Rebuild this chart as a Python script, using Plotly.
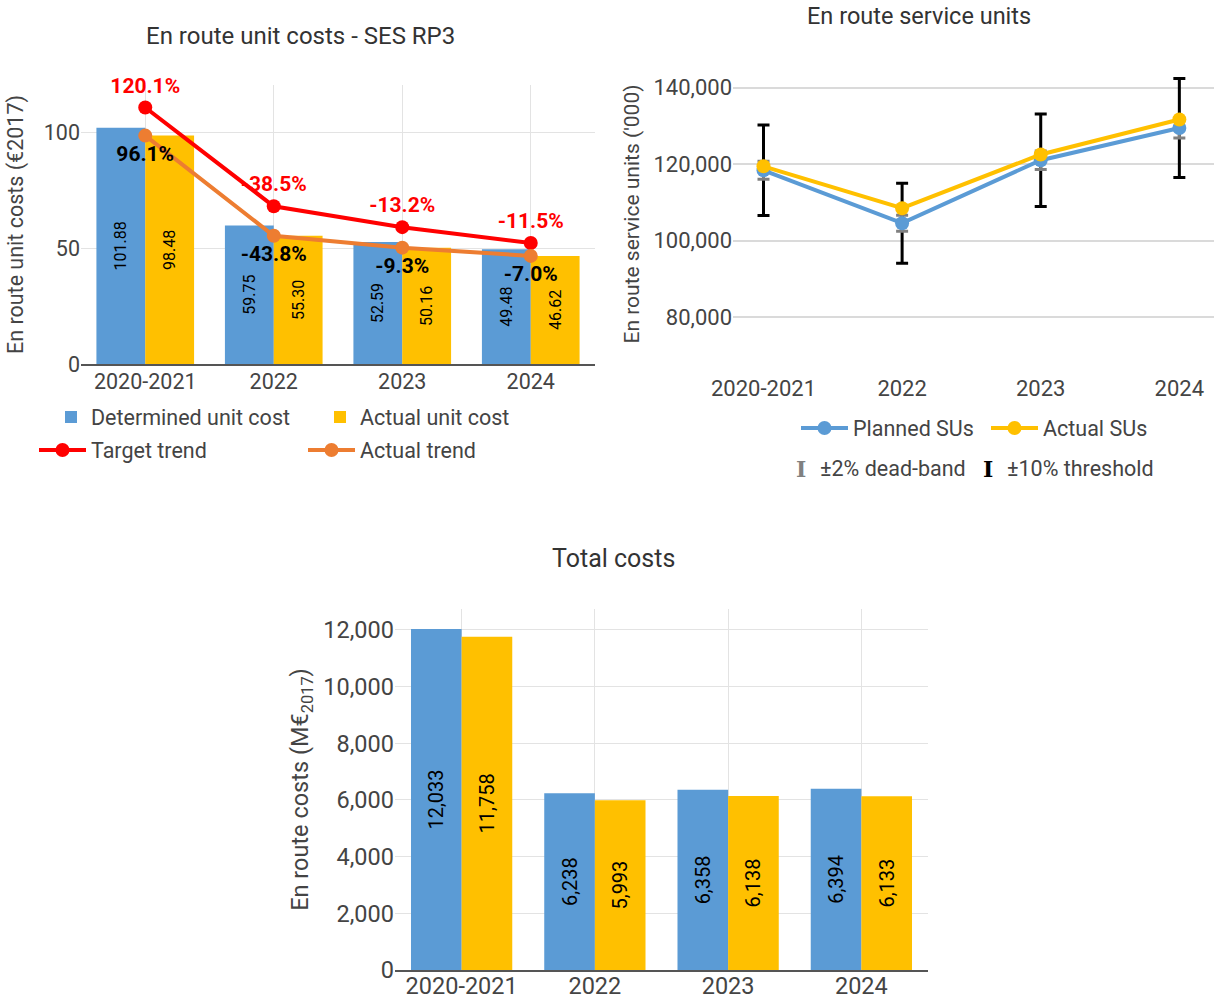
import plotly.graph_objects as go

W, H = 1214, 999

periods = ["2020-2021", "2022", "2023", "2024"]

# En route unit costs (EUR 2017)
determined_unit_cost = [101.88, 59.75, 52.59, 49.48]
actual_unit_cost = [98.48, 55.30, 50.16, 46.62]
target_trend = [110.6, 68.0, 59.0, 52.2]
target_trend_change = ["120.1%", "-38.5%", "-13.2%", "-11.5%"]
actual_trend_change = ["96.1%", "-43.8%", "-9.3%", "-7.0%"]

# En route service units ('000)
planned_sus = [118350, 104530, 121000, 129400]
actual_sus = [119400, 108450, 122500, 131650]
dead_band_share = 0.02
threshold_share = 0.10

# Total en route costs (M EUR 2017)
determined_costs = [12033, 6238, 6358, 6394]
actual_costs = [11758, 5993, 6138, 6133]

BLUE = "#5B9BD5"
YELLOW = "#FFC000"
RED = "#FF0000"
ORANGE = "#ED7D31"
TEXT = "#444444"
GRID = "#E3E3E3"
FONT = "Roboto"


def px_x(x):
    return x / W


def px_y(y):
    return 1 - y / H


fig = go.Figure()

# ---- Unit costs -------------------------------------------------------------
bar_text = dict(family=FONT, size=16, color="black")
fig.add_trace(go.Bar(
    x=periods, y=determined_unit_cost, name="Determined unit cost",
    marker_color=BLUE, texttemplate="%{y:.2f}", textposition="inside",
    insidetextanchor="middle", textangle=-90, insidetextfont=bar_text,
    constraintext="none", xaxis="x", yaxis="y", legend="legend",
))
fig.add_trace(go.Bar(
    x=periods, y=actual_unit_cost, name="Actual unit cost",
    marker_color=YELLOW, texttemplate="%{y:.2f}", textposition="inside",
    insidetextanchor="middle", textangle=-90, insidetextfont=bar_text,
    constraintext="none", xaxis="x", yaxis="y", legend="legend",
))
fig.add_trace(go.Scatter(
    x=periods, y=target_trend, name="Target trend",
    mode="lines+markers+text", text=target_trend_change,
    textposition="top center", cliponaxis=False,
    textfont=dict(family=FONT, size=21, color=RED, weight="bold"),
    line=dict(color=RED, width=4), marker=dict(color=RED, size=14),
    xaxis="x", yaxis="y", legend="legend2",
))
fig.add_trace(go.Scatter(
    x=periods, y=actual_unit_cost, name="Actual trend",
    mode="lines+markers+text", text=actual_trend_change,
    textposition="bottom center", cliponaxis=False,
    textfont=dict(family=FONT, size=21, color="black", weight="bold"),
    line=dict(color=ORANGE, width=4), marker=dict(color=ORANGE, size=14),
    xaxis="x", yaxis="y", legend="legend2",
))

# ---- Service units ------------------------------------------------------------
fig.add_trace(go.Scatter(
    x=periods, y=planned_sus, mode="markers", showlegend=False,
    marker=dict(size=1, opacity=0), hoverinfo="skip", cliponaxis=False,
    error_y=dict(type="data", array=[v * threshold_share for v in planned_sus],
                 color="black", thickness=3, width=6),
    xaxis="x2", yaxis="y2",
))
fig.add_trace(go.Scatter(
    x=periods, y=planned_sus, mode="markers", showlegend=False,
    marker=dict(size=1, opacity=0), hoverinfo="skip", cliponaxis=False,
    error_y=dict(type="data", array=[v * dead_band_share for v in planned_sus],
                 color="#808080", thickness=3, width=6),
    xaxis="x2", yaxis="y2",
))
fig.add_trace(go.Scatter(
    x=periods, y=planned_sus, name="Planned SUs", mode="lines+markers",
    line=dict(color=BLUE, width=4), marker=dict(color=BLUE, size=14),
    xaxis="x2", yaxis="y2", legend="legend3",
))
fig.add_trace(go.Scatter(
    x=periods, y=actual_sus, name="Actual SUs", mode="lines+markers",
    line=dict(color=YELLOW, width=4), marker=dict(color=YELLOW, size=14),
    xaxis="x2", yaxis="y2", legend="legend3",
))

# ---- Total costs --------------------------------------------------------------
cost_text = dict(family=FONT, size=20, color="black")
fig.add_trace(go.Bar(
    x=periods, y=determined_costs, showlegend=False, marker_color=BLUE,
    texttemplate="%{y:,.0f}", textposition="inside", insidetextanchor="middle",
    textangle=-90, insidetextfont=cost_text, constraintext="none",
    xaxis="x3", yaxis="y3",
))
fig.add_trace(go.Bar(
    x=periods, y=actual_costs, showlegend=False, marker_color=YELLOW,
    texttemplate="%{y:,.0f}", textposition="inside", insidetextanchor="middle",
    textangle=-90, insidetextfont=cost_text, constraintext="none",
    xaxis="x3", yaxis="y3",
))

tick_tl = dict(family=FONT, size=21.5, color=TEXT)
tick_tr = dict(family=FONT, size=22, color=TEXT)
tick_b = dict(family=FONT, size=23.5, color=TEXT)
legend_font = dict(family=FONT, size=21.5, color=TEXT)

fig.update_layout(
    template="none",
    width=W, height=H,
    margin=dict(l=0, r=0, t=0, b=0, autoexpand=False),
    paper_bgcolor="white", plot_bgcolor="white",
    font=dict(family=FONT, color=TEXT),
    barmode="group",
    bargap=0.24,
    xaxis=dict(domain=[px_x(81), px_x(595)], anchor="y", type="category",
               automargin=False, ticklabelstandoff=-3,
               showgrid=True, gridcolor=GRID, showline=True, linecolor="#555555",
               linewidth=2, ticks="", tickfont=tick_tl),
    yaxis=dict(domain=[px_y(364), px_y(85)], anchor="x", range=[0, 120.3],
               automargin=False,
               tickvals=[0, 50, 100], showgrid=True, gridcolor=GRID,
               zeroline=False, ticks="", tickfont=tick_tl,
               title=dict(text="En route unit costs (€2017)",
                          font=dict(family=FONT, size=21.5, color=TEXT),
                          standoff=14)),
    xaxis2=dict(domain=[px_x(733), 1.0], anchor="y2", type="category",
                automargin=False,
                range=[-0.22, 3.25], showgrid=False, showline=False,
                zeroline=False, ticks="", tickfont=tick_tr),
    yaxis2=dict(domain=[px_y(373), px_y(55)], anchor="x2",
                automargin=False,
                range=[65360, 148500],
                tickvals=[80000, 100000, 120000, 140000], tickformat=",",
                showgrid=True, gridcolor="#DADADA", gridwidth=2,
                zeroline=False, ticks="", tickfont=tick_tr,
                title=dict(text="En route service units ('000)",
                           font=dict(family=FONT, size=21, color=TEXT),
                           standoff=8)),
    xaxis3=dict(domain=[px_x(395), px_x(928)], anchor="y3", type="category",
                automargin=False, ticklabelstandoff=-6,
                showgrid=True, gridcolor=GRID, showline=True,
                linecolor="#555555", linewidth=2, ticks="", tickfont=tick_b),
    yaxis3=dict(domain=[px_y(970), px_y(609)], anchor="x3", range=[0, 12740],
                automargin=False,
                dtick=2000, tickformat=",", showgrid=True, gridcolor=GRID,
                zeroline=False, ticks="", tickfont=tick_b,
                title=dict(text="En route costs (M€<sub>2017</sub>)",
                           font=dict(family=FONT, size=23.5, color=TEXT),
                           standoff=8)),
    legend=dict(orientation="h", x=px_x(51), y=px_y(417), xanchor="left",
                yanchor="middle", entrywidth=224, font=legend_font,
                bgcolor="rgba(0,0,0,0)", traceorder="normal"),
    legend2=dict(orientation="h", x=px_x(34), y=px_y(450), xanchor="left",
                 yanchor="middle", entrywidth=207, itemwidth=47,
                 font=legend_font, bgcolor="rgba(0,0,0,0)", traceorder="normal"),
    legend3=dict(orientation="h", x=px_x(796), y=px_y(428), xanchor="left",
                 yanchor="middle", entrywidth=128, itemwidth=47,
                 font=legend_font, bgcolor="rgba(0,0,0,0)", traceorder="normal"),
)

annotations = [
    dict(text="En route unit costs - SES RP3", x=px_x(300), y=px_y(36), size=24),
    dict(text="En route service units", x=px_x(919), y=px_y(16), size=23.5),
    dict(text="Total costs", x=px_x(613), y=px_y(558), size=25),
]
for a in annotations:
    fig.add_annotation(xref="paper", yref="paper", showarrow=False,
                       xanchor="center", yanchor="middle", text=a["text"],
                       x=a["x"], y=a["y"],
                       font=dict(family=FONT, size=a["size"], color="#333333"))

# Error-bar key for the service-unit panel
for glyph_x, text_x, colour, label in [
    (801, 818, "#808080", "±2% dead-band"),
    (988, 1005, "black", "±10% threshold"),
]:
    fig.add_annotation(xref="paper", yref="paper", showarrow=False,
                       x=px_x(glyph_x), y=px_y(469), xanchor="center",
                       yanchor="middle", text="I",
                       font=dict(family="DejaVu Serif", size=22, color=colour,
                                 weight="bold"))
    fig.add_annotation(xref="paper", yref="paper", showarrow=False,
                       x=px_x(text_x), y=px_y(469), xanchor="left",
                       yanchor="middle", text=label, font=legend_font)

fig.write_html("out.html")
